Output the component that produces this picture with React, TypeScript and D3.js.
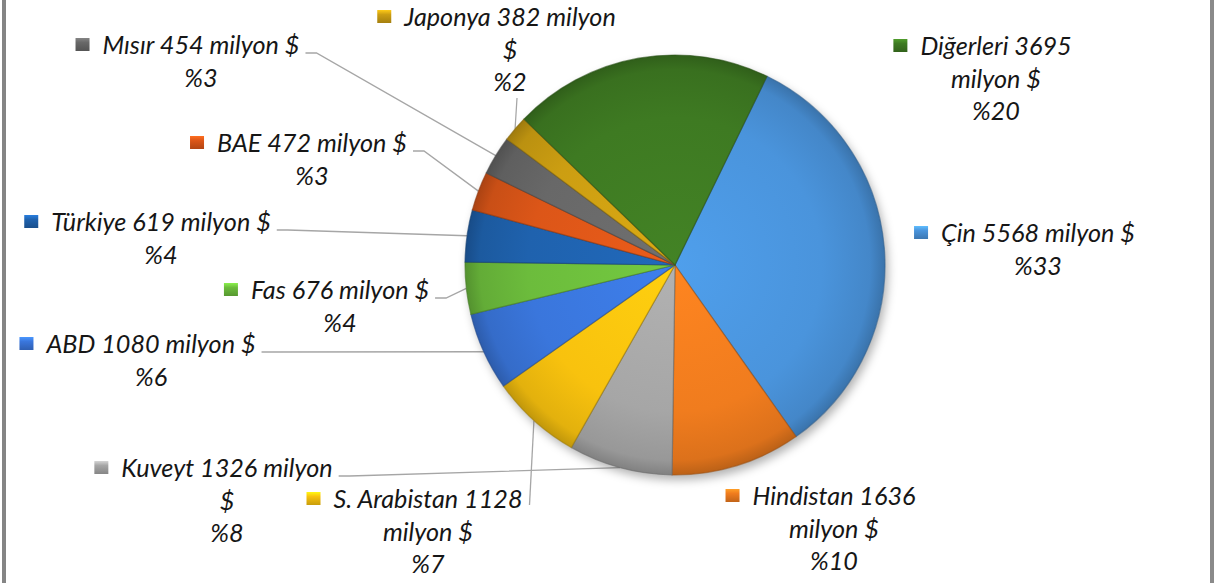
import React, { useEffect, useRef } from 'react';
import * as d3 from 'd3';

const countries = ['Çin', 'Hindistan', 'Kuveyt', 'S. Arabistan', 'ABD', 'Fas', 'Türkiye', 'BAE', 'Mısır', 'Japonya', 'Diğerleri'];
const amounts = [5568, 1636, 1326, 1128, 1080, 676, 619, 472, 454, 382, 3695];
const shares = [33, 10, 8, 7, 6, 4, 4, 3, 3, 2, 20];
const colors = ['#4a94dc', '#f07c1e', '#a6a6a6', '#f8c20e', '#3a76dc', '#6cbc3c', '#1f62ae', '#dc5618', '#686868', '#cc9e12', '#3e7a22'];

// label layout: centre x, first baseline, words kept on line one, leader style
const labelX = [1038, 834, 227, 428, 151, 340, 161, 312, 201, 510, 996];
const labelY = [242, 505, 477, 508, 353, 299, 231, 152, 54, 26, 55];
const firstLineWords = [4, 2, 3, 3, 4, 4, 4, 4, 4, 3, 2];
const leaders = ['none', 'none', 'side', 'up', 'side', 'side', 'side', 'side', 'side', 'below', 'none'];

const W = 1215;
const H = 583;
const cx = 675;
const cy = 265;
const radius = 210;
const startDeg = 26;
const fontSize = 25.2;
const lineGap = 32.5;
const fontFamily = 'Lato, "Open Sans", sans-serif';

export default function App() {
  const ref = useRef<SVGSVGElement>(null);

  useEffect(() => {
    document.body.style.margin = '0';
    const draw = () => {
      const svg = d3.select(ref.current);
      svg.selectAll('*').remove();
      const defs = svg.append('defs');

      svg.append('rect').attr('width', W).attr('height', H).attr('fill', '#fff');
      svg.append('rect').attr('x', 2).attr('y', 0).attr('width', 4).attr('height', H).attr('fill', '#858585');
      svg.append('rect').attr('x', 1210).attr('y', 0).attr('width', 4).attr('height', H).attr('fill', '#8a8a8a');

      const blur = defs.append('filter').attr('id', 'pieShadow')
        .attr('x', '-20%').attr('y', '-20%').attr('width', '140%').attr('height', '140%');
      blur.append('feGaussianBlur').attr('stdDeviation', 5);

      const start = startDeg * Math.PI / 180;
      const pie = d3.pie<number>().sort(null).value(d => d)
        .startAngle(start).endAngle(start + 2 * Math.PI);
      const arcs = pie(shares);
      const arc = d3.arc<d3.PieArcDatum<number>>().innerRadius(0).outerRadius(radius);

      colors.forEach((c, i) => {
        const g = defs.append('radialGradient').attr('id', 'slice' + i)
          .attr('gradientUnits', 'userSpaceOnUse').attr('cx', 0).attr('cy', 0).attr('r', radius);
        g.append('stop').attr('offset', '0%').attr('stop-color', d3.color(c)!.brighter(0.2).formatHex());
        g.append('stop').attr('offset', '70%').attr('stop-color', c);
        g.append('stop').attr('offset', '93%').attr('stop-color', d3.color(c)!.darker(0.25).formatHex());
        g.append('stop').attr('offset', '100%').attr('stop-color', d3.color(c)!.darker(0.7).formatHex());
        const m = defs.append('linearGradient').attr('id', 'key' + i)
          .attr('x1', 0).attr('y1', 0).attr('x2', 0).attr('y2', 1);
        m.append('stop').attr('offset', '0%').attr('stop-color', d3.color(c)!.brighter(0.7).formatHex());
        m.append('stop').attr('offset', '35%').attr('stop-color', c);
        m.append('stop').attr('offset', '100%').attr('stop-color', d3.color(c)!.darker(0.6).formatHex());
      });

      const pieG = svg.append('g').attr('transform', `translate(${cx},${cy})`);
      pieG.append('circle').attr('cx', 3).attr('cy', 5).attr('r', radius)
        .attr('fill', 'rgba(0,0,0,0.3)').attr('filter', 'url(#pieShadow)');
      pieG.selectAll('path.slice').data(arcs).enter().append('path')
        .attr('class', 'slice')
        .attr('d', arc)
        .attr('fill', (d, i) => `url(#slice${i})`)
        .attr('stroke', (d, i) => d3.color(colors[i])!.darker(1.2).formatHex())
        .attr('stroke-opacity', 0.6)
        .attr('stroke-width', 1.2)
        .attr('stroke-linejoin', 'round');

      const rimPoint = (d: d3.PieArcDatum<number>) => {
        const a = (d.startAngle + d.endAngle) / 2;
        return [cx + radius * Math.sin(a), cy - radius * Math.cos(a)];
      };

      const labels = svg.append('g')
        .attr('font-family', fontFamily)
        .attr('font-style', 'italic')
        .attr('font-size', fontSize)
        .attr('fill', '#161616');

      countries.forEach((name, i) => {
        const words = `${name} ${amounts[i]} milyon $`.split(' ');
        const lines = [words.slice(0, firstLineWords[i]).join(' ')];
        const rest = words.slice(firstLineWords[i]).join(' ');
        if (rest) lines.push(rest);
        lines.push('%' + shares[i]);

        const t = labels.append('text').attr('text-anchor', 'middle');
        lines.forEach((ln, k) => {
          t.append('tspan').attr('x', labelX[i]).attr('y', labelY[i] + k * lineGap).text(ln);
        });
        const firstW = (t.select('tspan').node() as SVGTextContentElement).getComputedTextLength();
        const left = labelX[i] - firstW / 2;
        const right = labelX[i] + firstW / 2;

        svg.append('rect')
          .attr('x', left - 27).attr('y', labelY[i] - 16)
          .attr('width', 14).attr('height', 13)
          .attr('fill', `url(#key${i})`);

        const [ex, ey] = rimPoint(arcs[i]);
        let pts: [number, number][] = [];
        const by = labelY[i] - 1;
        if (leaders[i] === 'side') {
          pts = [[right + 6, by], [right + 17, by], [ex, ey]];
        } else if (leaders[i] === 'up') {
          pts = [[right + 7, by - 2], [ex, ey]];
        } else if (leaders[i] === 'below') {
          pts = [[labelX[i] + 7, labelY[i] + (lines.length - 1) * lineGap + 7], [ex, ey]];
        }
        if (pts.length) {
          svg.insert('path', 'g')
            .attr('d', d3.line()(pts))
            .attr('fill', 'none')
            .attr('stroke', '#a6a6a6')
            .attr('stroke-width', 1.3);
        }
      });
    };
    if (document.fonts && document.fonts.load) {
      document.fonts.load(`italic ${fontSize}px Lato`).then(draw, draw);
    } else {
      draw();
    }
  }, []);

  return <svg ref={ref} width={W} height={H} style={{ display: 'block' }} />;
}
